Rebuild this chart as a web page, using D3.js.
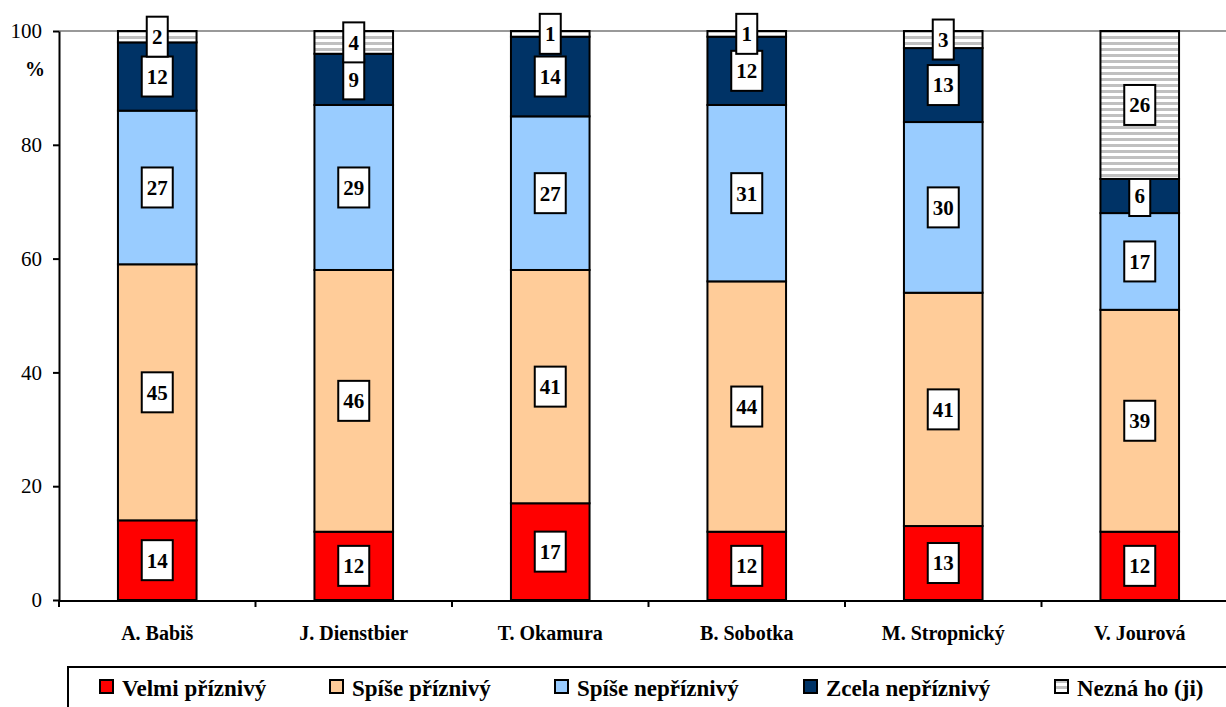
<!DOCTYPE html>
<html>
<head>
<meta charset="utf-8">
<script src="https://cdn.jsdelivr.net/npm/d3@7"></script>
<style>
  body { margin: 0; background: #fff; }
</style>
</head>
<body>
<svg width="1226" height="707"></svg>
<script>
var width = 1226, height = 707;
var serif = "'Liberation Serif', 'Times New Roman', serif";

// data
var names = ["A. Babiš", "J. Dienstbier", "T. Okamura", "B. Sobotka", "M. Stropnický", "V. Jourová"];
var seriesNames = ["Velmi příznivý", "Spíše příznivý", "Spíše nepříznivý", "Zcela nepříznivý", "Nezná ho (ji)"];
var velmiPriznivy = [14, 12, 17, 12, 13, 12];
var spisePriznivy = [45, 46, 41, 44, 41, 39];
var spiseNepriznivy = [27, 29, 27, 31, 30, 17];
var zcelaNepriznivy = [12, 9, 14, 12, 13, 6];
var neznaHo = [2, 4, 1, 1, 3, 26];
var yTicks = [0, 20, 40, 60, 80, 100];

var seriesValues = [velmiPriznivy, spisePriznivy, spiseNepriznivy, zcelaNepriznivy, neznaHo];
var colors = ["#ff0000", "#ffcc99", "#99ccff", "#003366", "url(#stripes)"];

var rows = names.map(function(n, i) {
    var r = { name: n };
    seriesNames.forEach(function(s, j) { r[s] = seriesValues[j][i]; });
    return r;
});
var stacked = d3.stack().keys(seriesNames)(rows);

var svg = d3.select("svg").style("font-family", serif);

// stripe pattern for "Nezná ho (ji)"
var pat = svg.append("defs").append("pattern")
    .attr("id", "stripes")
    .attr("patternUnits", "userSpaceOnUse")
    .attr("width", 8).attr("height", 6);
pat.append("rect").attr("width", 8).attr("height", 6).attr("fill", "#ffffff");
pat.append("rect").attr("y", 0).attr("width", 8).attr("height", 3).attr("fill", "#c0c0c0");

// SCALES
var xScale = d3.scaleBand()
    .domain(names)
    .range([59, 1238])
    .paddingInner(0.6)
    .paddingOuter(0.3);

var yScale = d3.scaleLinear()
    .domain([0, 100])
    .range([600, 31]);

// gridline at 100
svg.append("line")
    .attr("x1", 59).attr("x2", width)
    .attr("y1", yScale(100)).attr("y2", yScale(100))
    .attr("stroke", "#999").attr("stroke-width", 2);

// bars
var groups = svg.selectAll("g.series")
    .data(stacked)
    .enter()
    .append("g")
      .attr("class", "series")
      .attr("fill", function(d, i) { return colors[i]; });

groups.selectAll("rect")
    .data(function(d) { return d; })
    .enter()
    .append("rect")
      .attr("x", function(d) { return xScale(d.data.name); })
      .attr("y", function(d) { return yScale(d[1]); })
      .attr("width", xScale.bandwidth())
      .attr("height", function(d) { return yScale(d[0]) - yScale(d[1]); })
      .attr("stroke", "#000")
      .attr("stroke-width", 2);

// value labels
groups.each(function(s) {
    var g = d3.select(this);
    s.forEach(function(d) {
        var v = d[1] - d[0];
        var cx = xScale(d.data.name) + xScale.bandwidth() / 2;
        var cy = (yScale(d[0]) + yScale(d[1])) / 2;
        var w = String(v).length > 1 ? 31 : 21;
        g.append("rect")
            .attr("x", cx - w / 2).attr("y", cy - 20)
            .attr("width", w).attr("height", 40)
            .attr("fill", "#fff").attr("stroke", "#000").attr("stroke-width", 2);
        g.append("text")
            .attr("x", cx).attr("y", cy)
            .attr("dy", "0.35em")
            .attr("text-anchor", "middle")
            .style("font-family", serif)
            .attr("font-weight", "bold")
            .attr("font-size", 21)
            .attr("fill", "#000")
            .text(v);
    });
});

// AXES
var yAxis = d3.axisLeft(yScale).tickValues(yTicks).tickSize(6).tickSizeOuter(0);
var yg = svg.append("g")
    .attr("transform", "translate(59,0)")
    .call(yAxis);
yg.select(".domain").attr("stroke-width", 2).attr("stroke", "#000");
yg.selectAll(".tick line").attr("stroke-width", 2);
yg.selectAll(".tick text")
    .style("font-family", serif)
    .attr("font-size", 21)
    .attr("fill", "#000")
    .attr("x", -17);

// x axis line with ticks between categories
svg.append("line")
    .attr("x1", 59).attr("x2", width)
    .attr("y1", 601).attr("y2", 601)
    .attr("stroke", "#000").attr("stroke-width", 2);
svg.selectAll("line.xtick")
    .data(names)
    .enter()
    .append("line")
      .attr("class", "xtick")
      .attr("x1", function(d) { return xScale(d) - xScale.step() * xScale.paddingInner() / 2; })
      .attr("x2", function(d) { return xScale(d) - xScale.step() * xScale.paddingInner() / 2; })
      .attr("y1", 601).attr("y2", 607)
      .attr("stroke", "#000").attr("stroke-width", 2);

svg.selectAll("text.cat")
    .data(names)
    .enter()
    .append("text")
      .attr("class", "cat")
      .attr("x", function(d) { return xScale(d) + xScale.bandwidth() / 2; })
      .attr("y", 640)
      .attr("text-anchor", "middle")
      .style("font-family", serif)
      .attr("font-weight", "bold")
      .attr("font-size", 20)
      .text(function(d) { return d; });

// % label
svg.append("text")
    .attr("x", 35).attr("y", 76)
    .attr("text-anchor", "middle")
    .style("font-family", serif)
    .attr("font-weight", "bold")
    .attr("font-size", 20)
    .text("%");

// LEGEND
svg.append("rect")
    .attr("x", 68).attr("y", 667)
    .attr("width", 1200).attr("height", 60)
    .attr("fill", "none").attr("stroke", "#000").attr("stroke-width", 2);

var legendX = [100, 330, 555, 804, 1055];
var leg = svg.selectAll("g.legend")
    .data(seriesNames)
    .enter()
    .append("g")
      .attr("class", "legend")
      .attr("transform", function(d, i) { return "translate(" + legendX[i] + ",680)"; });
leg.append("rect")
    .attr("width", 13).attr("height", 13)
    .attr("fill", function(d, i) { return colors[i]; })
    .attr("stroke", "#000").attr("stroke-width", 2);
leg.append("text")
    .attr("x", 22).attr("y", 16)
    .style("font-family", serif)
    .attr("font-weight", "bold")
    .attr("font-size", 23)
    .text(function(d) { return d; });
</script>
</body>
</html>
